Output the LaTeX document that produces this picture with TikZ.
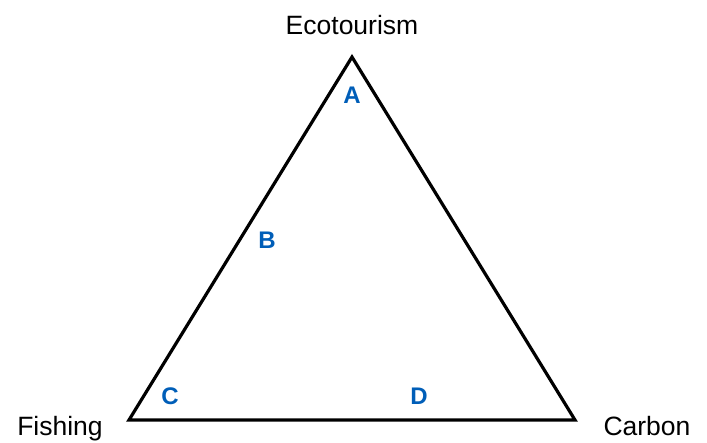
\documentclass[tikz,border=0pt]{standalone}
\usepackage{fontspec}
\setmainfont{Liberation Sans}
\usepackage{tikz}
\definecolor{markblue}{RGB}{0,94,184}

\begin{document}
\begin{tikzpicture}[
  x=1pt, y=-1pt,
  corner/.style={font=\fontsize{26.5}{30}\selectfont, anchor=base, inner sep=0pt},
  tag/.style={font=\fontsize{24}{28}\selectfont\bfseries, text=markblue, anchor=base, inner sep=0pt},
  edge/.style={line width=3.2pt, line join=miter}
]
\useasboundingbox (0,0) rectangle (707,442);

\coordinate (top) at (352,57);
\coordinate (left) at (129,420);
\coordinate (right) at (575,420);

\draw[edge] (top) -- (right) -- (left) -- cycle;

\node[corner] (eco) at (352,34) {Ecotourism};
\node[corner] (fish) at (60,435) {Fishing};
\node[corner] (carb) at (647,435) {Carbon};

\node[tag] (ta) at (352,103) {A};
\node[tag] (tb) at (267,248) {B};
\node[tag] (tc) at (170,404) {C};
\node[tag] (td) at (419,404) {D};
\end{tikzpicture}
\end{document}
